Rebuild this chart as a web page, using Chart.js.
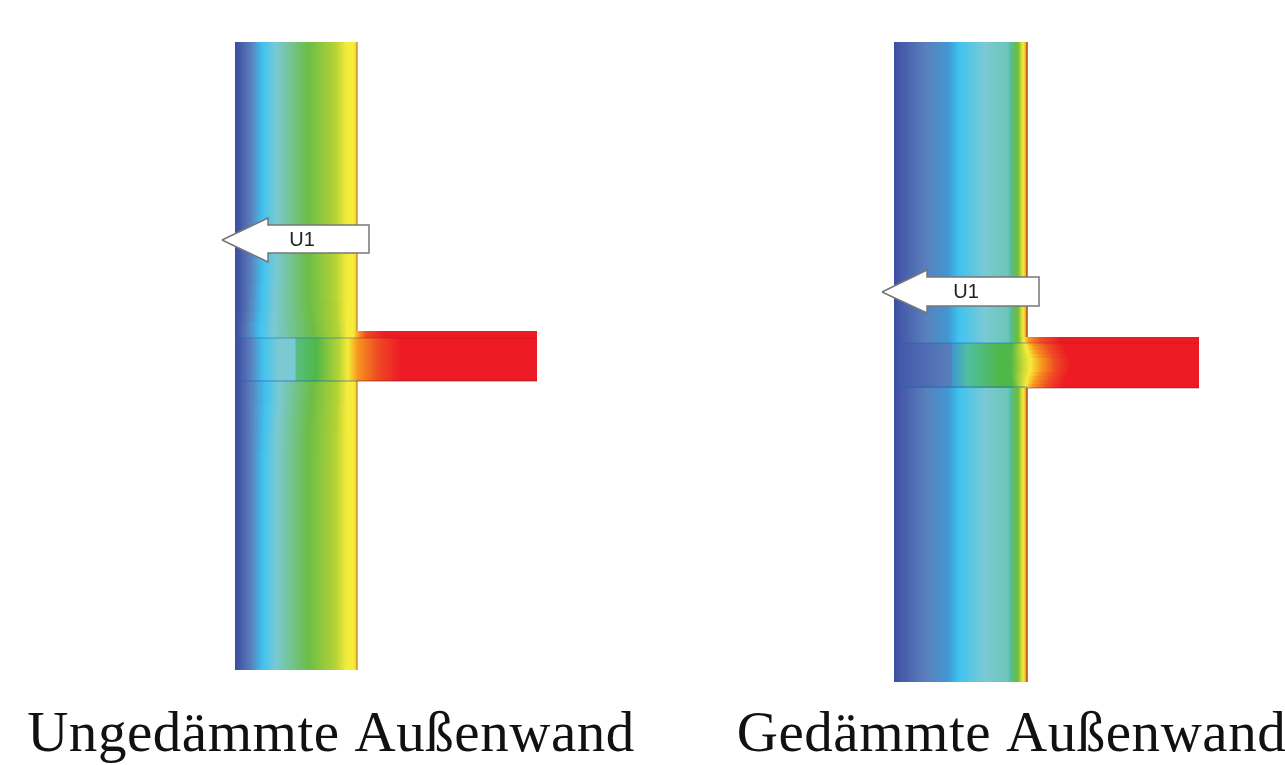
<!DOCTYPE html>
<html>
<head>
<meta charset="utf-8">
<title>Ungedämmte und gedämmte Außenwand</title>
<script src="https://cdn.jsdelivr.net/npm/chart.js@4/dist/chart.umd.min.js"></script>
<style>
  html, body { margin: 0; padding: 0; background: #fff; }
  canvas { display: block; }
</style>
</head>
<body>
<canvas id="chart" width="1285" height="765"></canvas>
<script>
// captions
const captions = ['Ungedämmte Außenwand', 'Gedämmte Außenwand'];
const captionX = [331, 1011.5];

// colour legend of the simulation: temperature -> colour
const legendTemps = [-10, -8, -5, -3, -1.5, 1, 2, 3, 6, 7, 10, 13, 15, 17, 20];
const legendColors = ['#3a4ea2', '#4459a9', '#5a80bc', '#3f98d2', '#3fc3f0', '#7bc9d3', '#6cc6b8', '#4fbfa0',
  '#6bbd46', '#4fb848', '#b3d235', '#f6ec3b', '#f7941d', '#ee4a24', '#ed1c24'];

// uninsulated wall: isotherm positions at each height
const wallATemps = [-10, -8, -5, -1.5, 1, 6, 10, 13, 13, 14];
const wallAFar = [235, 240, 251, 263, 276, 308, 335, 347, 354, 357];
const wallAUp1 = [235, 240, 250.5, 262.5, 275.5, 308.5, 335, 347, 354, 357];
const wallAUp2 = [235, 240, 250, 262, 275, 309.5, 336, 347, 354, 357];
const wallAUp3 = [235, 239.5, 249, 261, 274.5, 310.5, 336, 347, 354, 357];
const wallAUp4 = [235, 239, 248, 260, 274, 312, 337, 347, 354, 357];
const wallADown1 = [235, 240, 251, 266, 279, 312, 337, 347, 354, 357];
const wallADown2 = [235, 240, 251, 266, 278.5, 311, 337, 347, 354, 357];
const wallADown3 = [235, 240, 251, 265, 278, 310, 336, 347, 354, 357];
const wallADown4 = [235, 240, 251, 264.5, 277, 309, 336, 347, 354, 357];
const wallADown5 = [235, 240, 251, 264, 276.5, 308.5, 335, 347, 354, 357];
const slabATopTemps = [-10, -8, -5, -1.5, 1, 6, 10, 13, 13, 15, 17, 20];
const slabATop = [235, 239, 248, 260, 274, 313, 338, 347, 353, 359, 366, 385];
const slabAZoneTemps = [-10, -8, -5, -1.5, 1, 1, 4, 7, 10, 13, 15, 17, 20];
const slabAZone = [235, 240, 251, 263, 278, 295, 296, 316, 338, 348, 358, 378, 400];

// insulated wall
const wallBTemps = [-10, -8, -5, -3, -1.5, 1, 2, 3, 6, 6, 10, 13, 15];
const wallBFar = [894, 900, 926, 948, 959, 985, 1008, 1011, 1015, 1018, 1020.5, 1023, 1027];
const slabBTopTemps = [-10, -8, -5, -3, -1.5, 1, 2, 3, 6, 6, 10, 13, 15, 17, 20];
const slabBTop = [894, 900, 926, 948, 959, 985, 1008, 1011, 1015, 1018, 1021, 1024, 1029, 1042, 1060];
const slabBZoneTemps = [-10, -8, -5, -3, 3, 7, 7, 10, 13, 15, 17, 20];
const slabBEdge1 = [894, 900, 951.5, 952, 968, 1000, 1012, 1020, 1025.5, 1033, 1047, 1063];
const slabBEdge2 = [894, 900, 951.5, 952, 968, 1000, 1012, 1020, 1026.5, 1035, 1049, 1065];
const slabBEdge3 = [894, 900, 951.5, 952, 968, 1000, 1011, 1020, 1027.5, 1037, 1051, 1066];
const slabBEdge4 = [894, 900, 951.5, 952, 968, 1000, 1011, 1020, 1029, 1039, 1053, 1068];
const slabBCore = [894, 900, 951.5, 952, 968, 1000, 1011, 1021, 1030, 1042, 1055, 1070];

// rows: upper edge, lower edge, isotherm positions, temperatures
const wallARows = [
  [42, 285, wallAFar, wallATemps], [285, 300, wallAUp1, wallATemps], [300, 312, wallAUp2, wallATemps],
  [312, 322, wallAUp3, wallATemps], [322, 331, wallAUp4, wallATemps],
  [381, 392, wallADown1, wallATemps], [392, 405, wallADown2, wallATemps], [405, 418, wallADown3, wallATemps],
  [418, 432, wallADown4, wallATemps], [432, 450, wallADown5, wallATemps], [450, 670, wallAFar, wallATemps]
];
const slabARows = [[331, 338, slabATop, slabATopTemps], [338, 381, slabAZone, slabAZoneTemps]];
const wallBRows = [[42, 337, wallBFar, wallBTemps], [388, 682, wallBFar, wallBTemps]];
const slabBRows = [
  [337, 343, slabBTop, slabBTopTemps], [343, 346, slabBEdge1, slabBZoneTemps], [346, 350, slabBEdge2, slabBZoneTemps],
  [350, 354, slabBEdge3, slabBZoneTemps], [354, 358, slabBEdge4, slabBZoneTemps], [358, 372, slabBCore, slabBZoneTemps],
  [372, 376, slabBEdge4, slabBZoneTemps], [376, 380, slabBEdge3, slabBZoneTemps], [380, 384, slabBEdge2, slabBZoneTemps],
  [384, 388, slabBEdge1, slabBZoneTemps]
];
const slabEnds = { a: 537, b: 1199 };

// U1 arrows
const arrowAX = [222, 268, 268, 369, 369, 268, 268, 222];
const arrowAY = [240, 218, 225, 225, 253, 253, 262, 240];
const arrowBX = [882, 927, 927, 1039, 1039, 927, 927, 882];
const arrowBY = [292, 270, 277, 277, 306, 306, 313, 292];
const arrowLabels = [{ x: 302, y: 240, text: 'U1' }, { x: 966, y: 292, text: 'U1' }];

function hexToRgb(h) {
  return [parseInt(h.slice(1, 3), 16), parseInt(h.slice(3, 5), 16), parseInt(h.slice(5, 7), 16)];
}

function tempColor(t) {
  for (let i = 0; i < legendTemps.length - 1; i++) {
    if (t <= legendTemps[i + 1]) {
      const k = Math.max(0, (t - legendTemps[i]) / (legendTemps[i + 1] - legendTemps[i]));
      const a = hexToRgb(legendColors[i]), b = hexToRgb(legendColors[i + 1]);
      return `rgb(${a.map((v, j) => Math.round(v + (b[j] - v) * k)).join(',')})`;
    }
  }
  return legendColors[legendColors.length - 1];
}

// one band of the section: filled from its upper edge down to its lower edge
function rowDataset(row, endX) {
  const [top, bottom, xs, temps] = row;
  const allX = endX ? xs.concat([endX]) : xs;
  const allT = endX ? temps.concat([20]) : temps;
  return {
    data: [{ x: allX[0], y: top }, { x: allX[allX.length - 1], y: top }],
    showLine: true,
    order: 5,
    borderWidth: 0,
    pointRadius: 0,
    fill: { value: bottom },
    backgroundColor: (ctx) => {
      const chart = ctx.chart;
      if (!chart.chartArea) return '#fff';
      const sx = chart.scales.x;
      const g = chart.ctx.createLinearGradient(sx.getPixelForValue(allX[0]), 0, sx.getPixelForValue(allX[allX.length - 1]), 0);
      const span = allX[allX.length - 1] - allX[0];
      allX.forEach((x, i) => g.addColorStop((x - allX[0]) / span, tempColor(allT[i])));
      return g;
    }
  };
}

function lineDataset(xs, ys, color, width) {
  return {
    data: xs.map((x, i) => ({ x: x, y: ys[i] })),
    showLine: true,
    order: 2,
    borderColor: color,
    borderWidth: width,
    pointRadius: 0,
    fill: false
  };
}

function arrowDataset(xs, ys) {
  return {
    data: xs.map((x, i) => ({ x: x, y: ys[i] })),
    showLine: true,
    order: 1,
    borderColor: '#777777',
    borderWidth: 1.5,
    pointRadius: 0,
    fill: 'shape',
    backgroundColor: '#ffffff'
  };
}

const datasets = [
  ...wallARows.map(r => rowDataset(r)),
  ...slabARows.map(r => rowDataset(r, slabEnds.a)),
  ...wallBRows.map(r => rowDataset(r)),
  ...slabBRows.map(r => rowDataset(r, slabEnds.b)),
  // seams and outlines
  lineDataset([238, 357], [338, 338], 'rgba(30,100,180,0.35)', 1.5),
  lineDataset([238, 357], [381, 381], 'rgba(30,100,180,0.45)', 1.5),
  lineDataset([357, 537], [338, 338], 'rgba(170,20,30,0.3)', 1.5),
  lineDataset([357, 537], [381, 381], 'rgba(120,20,25,0.6)', 1),
  lineDataset([357, 357], [42, 331], '#c49a2a', 1.5),
  lineDataset([357, 357], [381, 670], '#c49a2a', 1.5),
  lineDataset([897, 1027], [343, 343], 'rgba(30,100,180,0.35)', 1.5),
  lineDataset([897, 1027], [387, 387], 'rgba(30,100,180,0.45)', 1.5),
  lineDataset([1027, 1199], [343, 343], 'rgba(170,20,30,0.25)', 1.5),
  lineDataset([1027, 1199], [388, 388], 'rgba(120,20,25,0.5)', 1),
  lineDataset([1027, 1027], [42, 337], '#a8501c', 1.5),
  lineDataset([1027, 1027], [388, 682], '#a8501c', 1.5),
  arrowDataset(arrowAX, arrowAY),
  arrowDataset(arrowBX, arrowBY)
];

// the captions in the reference run a little wider than Liberation Serif
const captionSpacingPlugin = {
  id: 'captionSpacing',
  beforeDraw(chart) { chart.ctx.letterSpacing = '0.55px'; },
  afterDraw(chart) { chart.ctx.letterSpacing = '0px'; }
};

const arrowTextPlugin = {
  id: 'arrowText',
  afterDatasetsDraw(chart) {
    const c = chart.ctx;
    c.save();
    c.letterSpacing = '0px';
    c.font = '20px "Liberation Sans"';
    c.fillStyle = '#222';
    c.textAlign = 'center';
    c.textBaseline = 'middle';
    arrowLabels.forEach(l => c.fillText(l.text, chart.scales.x.getPixelForValue(l.x), chart.scales.y.getPixelForValue(l.y)));
    c.restore();
  }
};

new Chart(document.getElementById('chart'), {
  type: 'scatter',
  data: { datasets: datasets },
  plugins: [captionSpacingPlugin, arrowTextPlugin],
  options: {
    responsive: false,
    animation: false,
    layout: { padding: 0 },
    plugins: { legend: { display: false }, tooltip: { enabled: false } },
    scales: {
      x: {
        type: 'linear',
        min: 0,
        max: 1285,
        grid: { display: false, drawTicks: false },
        border: { display: false },
        afterBuildTicks: (s) => { s.ticks = captionX.map(v => ({ value: v })); },
        afterFit: (s) => { s.height = 65; s.paddingLeft = 0; s.paddingRight = 0; },
        ticks: {
          autoSkip: false,
          maxRotation: 0,
          padding: 2,
          color: '#111',
          font: { family: '"Liberation Serif"', size: 57 },
          callback: (v) => captions[captionX.indexOf(v)]
        }
      },
      y: {
        type: 'linear',
        display: false,
        reverse: true,
        min: 0,
        max: 700
      }
    }
  }
});
</script>
</body>
</html>
